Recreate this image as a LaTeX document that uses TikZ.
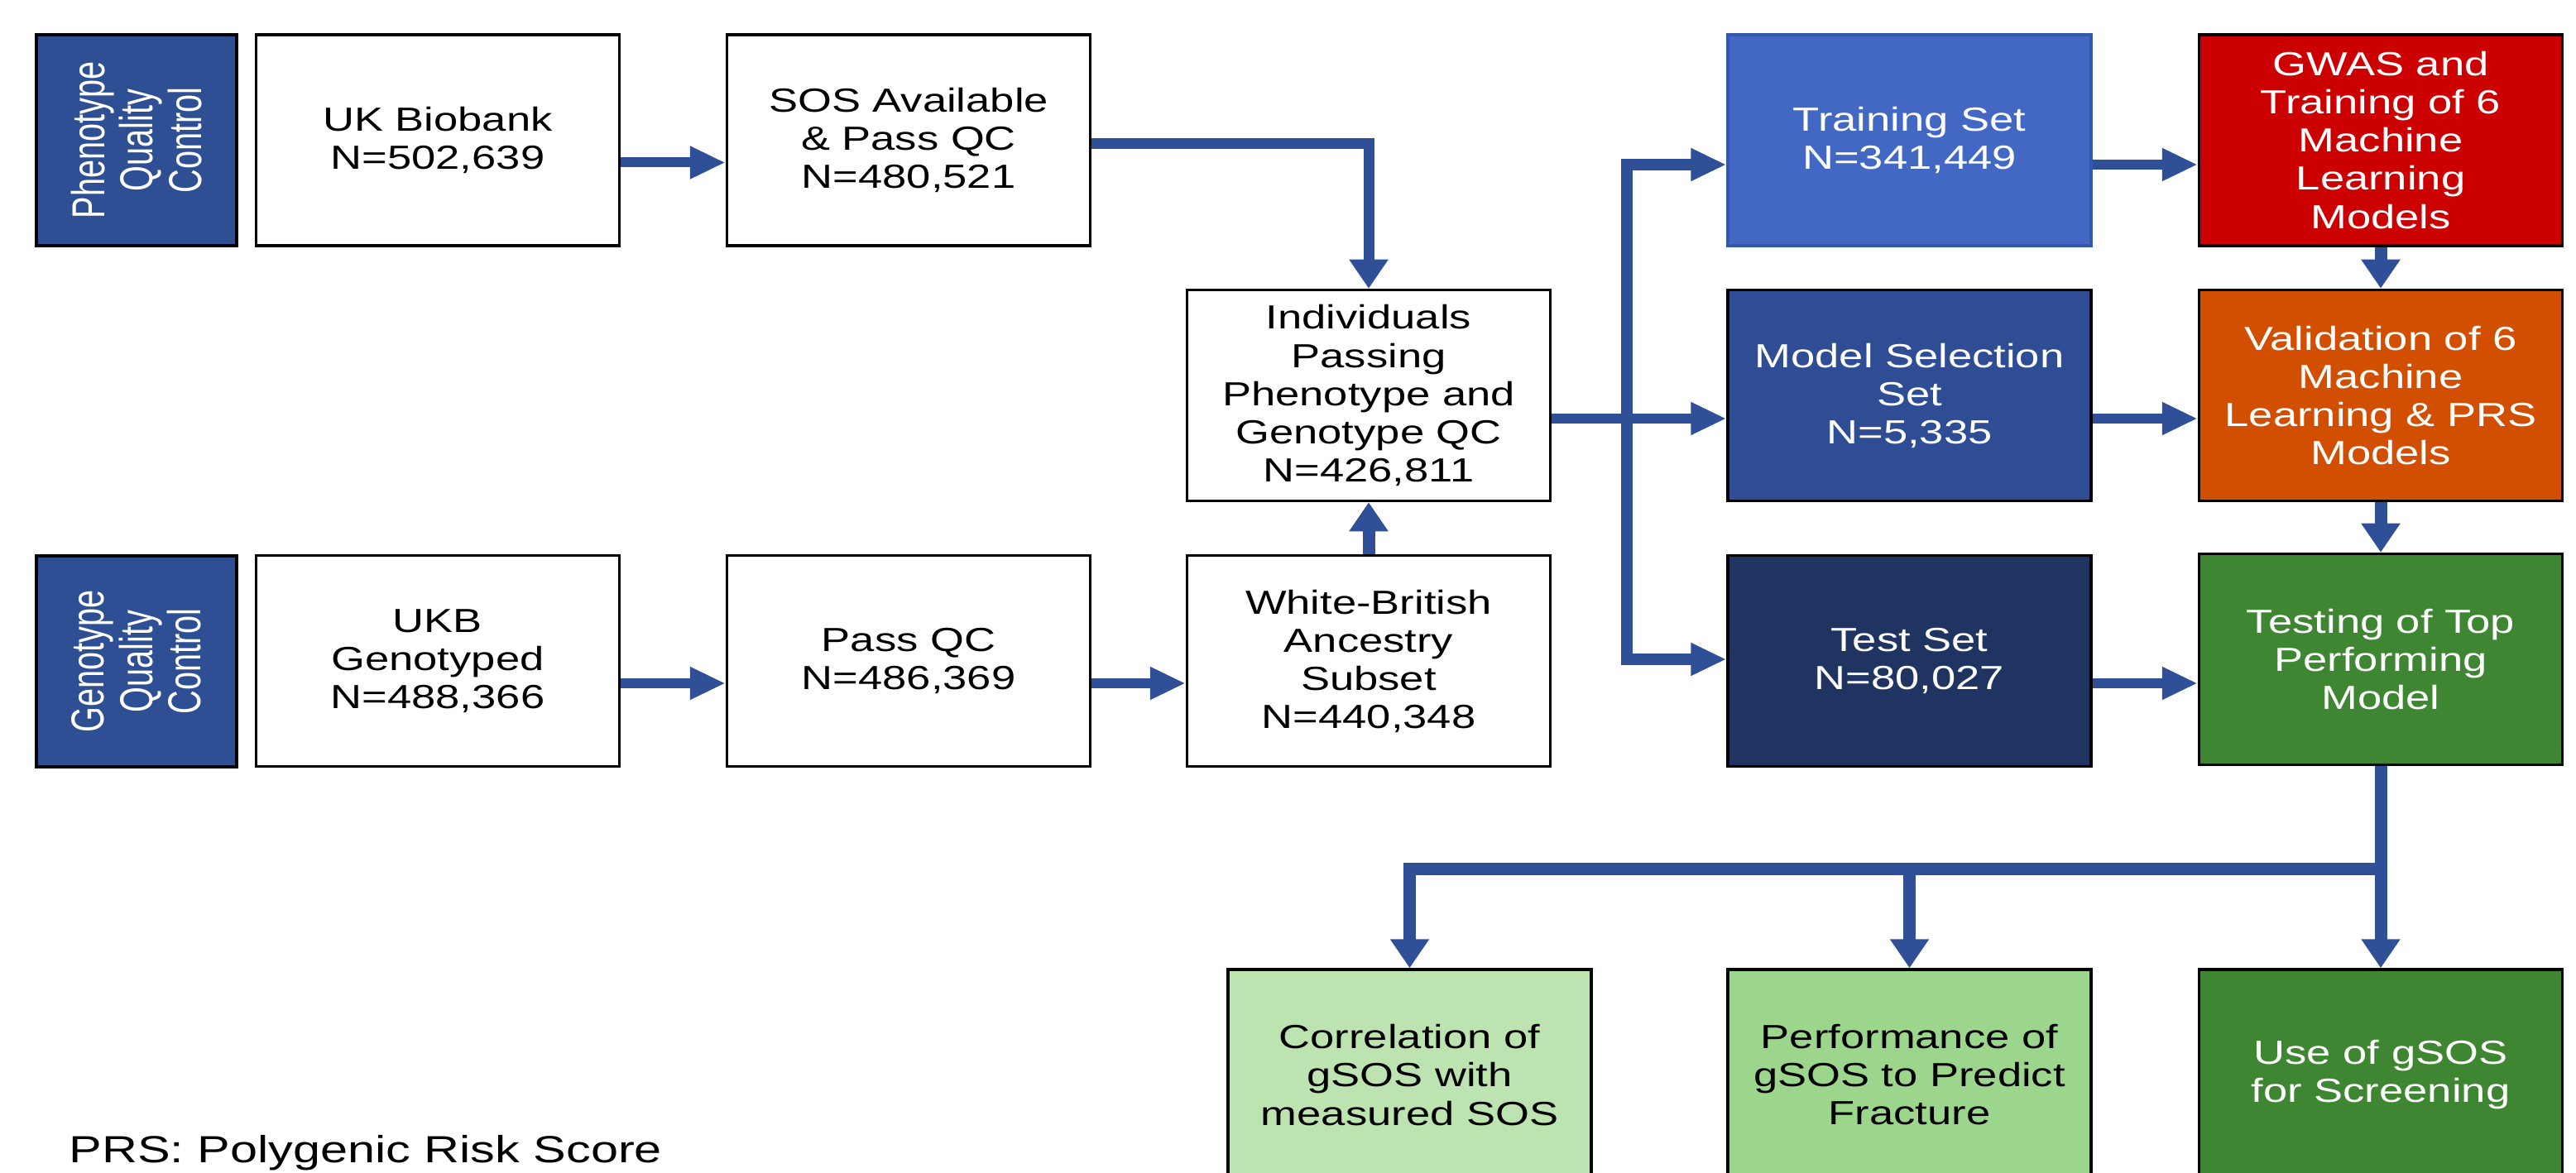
\documentclass[tikz,border=0pt]{standalone}
\usepackage{fontspec}
\setmainfont{Liberation Sans}[FakeStretch=1.3]
\newfontfamily\sidefont{Liberation Sans}[FakeStretch=0.71]
\usetikzlibrary{arrows.meta}

\definecolor{flowblue}{HTML}{2F4F96}
\definecolor{qcblue}{HTML}{2F4F94}
\definecolor{trainblue}{HTML}{4368C4}
\definecolor{trainedge}{HTML}{3558A8}
\definecolor{selblue}{HTML}{2E4D95}
\definecolor{testnavy}{HTML}{1F3461}
\definecolor{gwasred}{HTML}{CC0000}
\definecolor{validorange}{HTML}{D24E00}
\definecolor{topgreen}{HTML}{3F8632}
\definecolor{corrgreen}{HTML}{BDE4B0}
\definecolor{perfgreen}{HTML}{9CD68C}

\begin{document}
\begin{tikzpicture}[
    box/.style={draw=black, line width=1pt, minimum width=4.39cm, minimum height=2.55cm,
        inner sep=0pt, align=center, font=\fontsize{11.5}{13.1}\selectfont},
    wbox/.style={box, fill=white},
    cbox/.style={box, fill=#1, text=white},
    side/.style={draw=black, line width=1pt, fill=qcblue, text=white, rotate=90,
        minimum width=2.55cm, minimum height=2.42cm, inner sep=0pt, align=center,
        font=\sidefont\fontsize{15.9}{16.7}\selectfont},
    hflow/.style={draw=flowblue, line width=0.12cm, -{Triangle[length=0.43cm,width=0.37cm]}},
    vflow/.style={draw=flowblue, line width=0.15cm, -{Triangle[length=0.35cm,width=0.45cm]}}
]
    \useasboundingbox (0,0) rectangle (31.13,-14.18);
    \clip (0,0) rectangle (31.13,-14.18);

    % quality control rows
    \node[side] (phenoqc) at (1.65,-1.695) {Phenotype\\Quality\\Control};
    \node[side] (genoqc) at (1.65,-7.995) {Genotype\\Quality\\Control};
    \node[wbox] (biobank) at (5.29,-1.695) {UK Biobank\\N=502,639};
    \node[wbox] (sos) at (10.98,-1.695) {SOS Available\\\& Pass QC\\N=480,521};
    \node[wbox] (indiv) at (16.54,-4.78) {Individuals\\Passing\\Phenotype and\\Genotype QC\\N=426,811};
    \node[wbox] (ukbgeno) at (5.29,-7.99) {UKB\\Genotyped\\N=488,366};
    \node[wbox] (passqc) at (10.98,-7.99) {Pass QC\\N=486,369};
    \node[wbox] (white) at (16.54,-7.99) {White-British\\Ancestry\\Subset\\N=440,348};

    % data splits and models
    \node[cbox=trainblue, draw=trainedge] (training) at (23.075,-1.695) {Training Set\\N=341,449};
    \node[cbox=selblue] (modelsel) at (23.075,-4.78) {Model Selection\\Set\\N=5,335};
    \node[cbox=testnavy] (testset) at (23.075,-7.99) {Test Set\\N=80,027};
    \node[cbox=gwasred] (gwas) at (28.77,-1.695) {GWAS and\\Training of 6\\Machine\\Learning\\Models};
    \node[cbox=validorange] (valid) at (28.77,-4.78) {Validation of 6\\Machine\\Learning \& PRS\\Models};
    \node[cbox=topgreen] (toptest) at (28.77,-7.97) {Testing of Top\\Performing\\Model};

    % outcomes
    \node[box, fill=corrgreen] (corr) at (17.035,-12.995) {Correlation of\\gSOS with\\measured SOS};
    \node[box, fill=perfgreen] (perf) at (23.075,-12.995) {Performance of\\gSOS to Predict\\Fracture};
    \node[cbox=topgreen] (use) at (28.77,-12.995) {Use of gSOS\\for Screening};
    \node[anchor=base west, inner sep=0pt, font=\fontsize{13}{15}\selectfont] (prs) at (0.83,-14.05) {PRS: Polygenic Risk Score};

    \draw[hflow] ([yshift=-0.27cm]biobank.east) -- ([yshift=-0.27cm]sos.west);
    \draw[vflow, line width=0.13cm] ([yshift=-0.045cm]sos.east) -| (indiv.north);
    \draw[hflow] ([yshift=-0.27cm]ukbgeno.east) -- ([yshift=-0.27cm]passqc.west);
    \draw[hflow] ([yshift=-0.27cm]passqc.east) -- ([yshift=-0.27cm]white.west);
    \draw[vflow] (white.north) -- (indiv.south);

    \coordinate (trunktop) at (19.66,-1.99);
    \coordinate (trunkbot) at (19.66,-7.97);
    \draw[hflow] ([yshift=-0.28cm]indiv.east) -- ([yshift=-0.28cm]modelsel.west);
    \draw[hflow, line width=0.14cm] (trunkbot) -- (trunktop) -- (trunktop -| training.west);
    \draw[hflow, line width=0.14cm] (trunktop) -- (trunkbot) -- (trunkbot -| testset.west);

    \draw[hflow] (trunktop -| training.east) -- (trunktop -| gwas.west);
    \draw[hflow] ([yshift=-0.28cm]modelsel.east) -- ([yshift=-0.28cm]modelsel.east -| valid.west);
    \draw[hflow] ([yshift=-0.27cm]testset.east) -- ([yshift=-0.27cm]testset.east -| toptest.west);
    \draw[vflow] (gwas.south) -- (valid.north);
    \draw[vflow] (valid.south) -- (toptest.north);

    \path (toptest.south) ++(0,-1.24) coordinate (fork);
    \draw[vflow] (toptest.south) -- (use.north);
    \draw[vflow] (fork) -| (corr.north);
    \draw[vflow] (fork -| perf.north) -- (perf.north);
\end{tikzpicture}
\end{document}
